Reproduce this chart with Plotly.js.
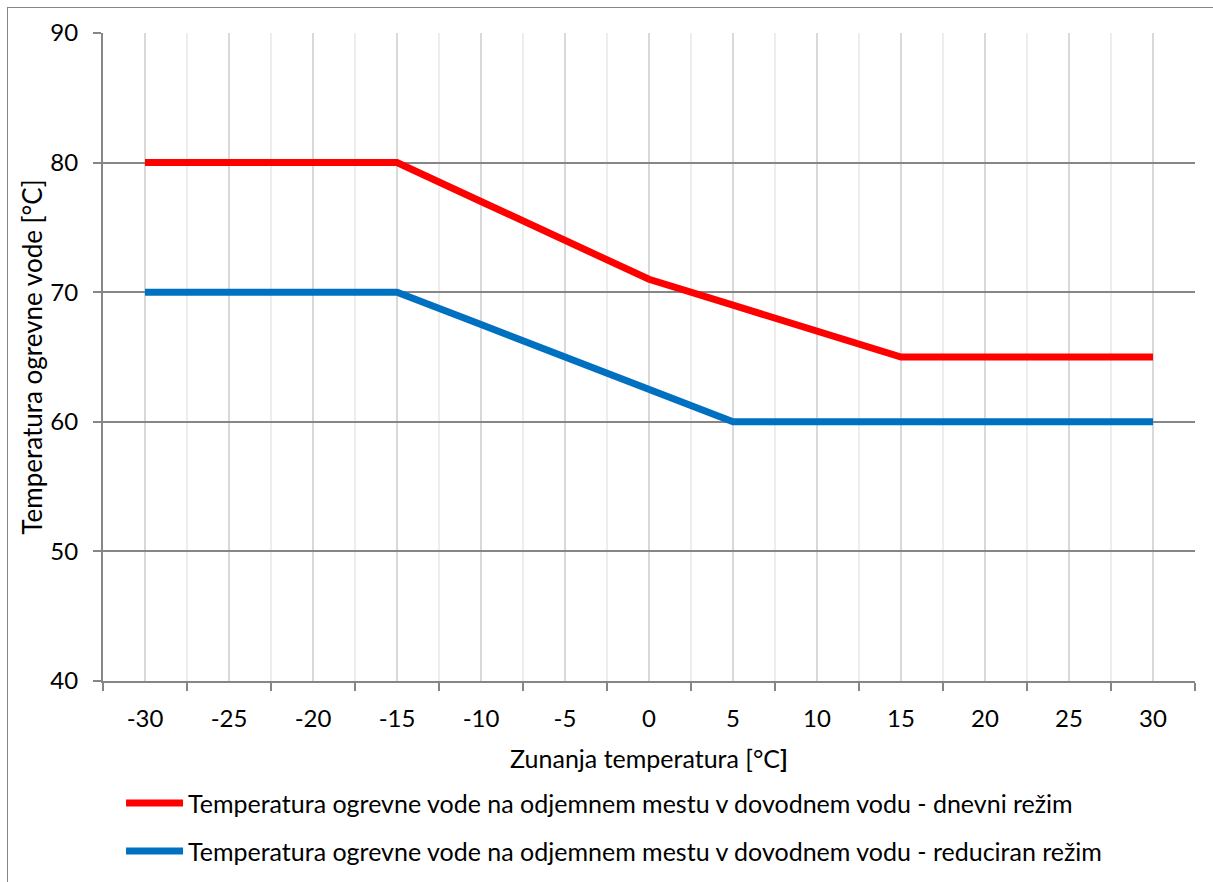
<!DOCTYPE html>
<html>
<head>
<meta charset="utf-8">
<script src="https://cdn.plot.ly/plotly-3.0.1.min.js"></script>
<style>
html,body{margin:0;padding:0;background:#fff;}
#wrap{position:relative;width:1213px;height:882px;overflow:hidden;}
#chart{width:1213px;height:882px;}
#frame{position:absolute;left:7px;top:7px;width:1210px;height:880px;border:1px solid #868686;pointer-events:none;}
</style>
</head>
<body>
<div id="wrap"><div id="chart"></div><div id="frame"></div></div>
<script>
const outdoorTemp = [-30, -25, -20, -15, -10, -5, 0, 5, 10, 15, 20, 25, 30];
const dayMode = [80, 80, 80, 80, 77, 74, 71, 69, 67, 65, 65, 65, 65];
const reducedMode = [70, 70, 70, 70, 67.5, 65, 62.5, 60, 60, 60, 60, 60, 60];
const seriesNames = [
  'Temperatura ogrevne vode na odjemnem mestu v dovodnem vodu - dnevni režim',
  'Temperatura ogrevne vode na odjemnem mestu v dovodnem vodu - reduciran režim'
];
const seriesColors = ['#ff0000', '#0070c0'];
const xTickLabels = outdoorTemp.map(v => String(v));
const yTickVals = [40, 50, 60, 70, 80, 90];
const xTitle = 'Zunanja temperatura [°C<b>]</b>';
const yTitle = 'Temperatura ogrevne vode [°C]';

const FONT = 'Lato, "Open Sans", sans-serif';
const seriesData = [dayMode, reducedMode];
const traces = seriesData.map((ys, i) => ({
  x: outdoorTemp, y: ys, name: seriesNames[i], mode: 'lines',
  line: {color: seriesColors[i], width: 7}, showlegend: false
}));

// manual legend (longer sample lines like the original)
const legRowY = [-0.1883, -0.2623];
const shapes = [], annotations = [];
seriesNames.forEach((name, i) => {
  shapes.push({type: 'line', xref: 'paper', yref: 'paper',
    x0: 0.0211, x1: 0.0733, y0: legRowY[i], y1: legRowY[i],
    line: {color: seriesColors[i], width: 7}});
  annotations.push({xref: 'paper', yref: 'paper', x: 0.0760, y: legRowY[i],
    xanchor: 'left', yanchor: 'middle', showarrow: false, text: name,
    font: {family: FONT, size: 25, color: '#000'}});
});

const layout = {
  width: 1213, height: 882,
  margin: {l: 103, r: 18, t: 33, b: 201},
  paper_bgcolor: '#ffffff', plot_bgcolor: '#ffffff',
  font: {family: FONT, size: 24, color: '#000'},
  showlegend: false,
  shapes: shapes, annotations: annotations,
  xaxis: {
    range: [-32.5, 32.5], tickmode: 'array', tickvals: outdoorTemp, ticktext: xTickLabels,
    showgrid: true, gridcolor: '#d9d9d9', gridwidth: 2,
    ticks: '', showline: true, linecolor: '#868686', linewidth: 2,
    zeroline: false, tickfont: {family: FONT, size: 24}, ticklabelstandoff: 15,
    minor: {tick0: -32.5, dtick: 5, showgrid: true, gridcolor: '#ededed', gridwidth: 1.5,
            ticks: 'outside', ticklen: 8, tickcolor: '#868686', tickwidth: 2},
    title: {text: xTitle, font: {family: FONT, size: 25}, standoff: 20},
    automargin: false, fixedrange: true
  },
  yaxis: {
    range: [40, 90], tickmode: 'array', tickvals: yTickVals,
    showgrid: true, gridcolor: '#868686', gridwidth: 2,
    ticks: 'outside', ticklen: 8, tickcolor: '#868686', tickwidth: 2,
    showline: true, linecolor: '#868686', linewidth: 2, zeroline: false,
    tickfont: {family: FONT, size: 24}, ticklabelstandoff: 10,
    title: {text: yTitle, font: {family: FONT, size: 26}, standoff: 0},
    automargin: false, fixedrange: true
  }
};
Plotly.newPlot('chart', traces, layout, {displayModeBar: false, staticPlot: true});
</script>
</body>
</html>
